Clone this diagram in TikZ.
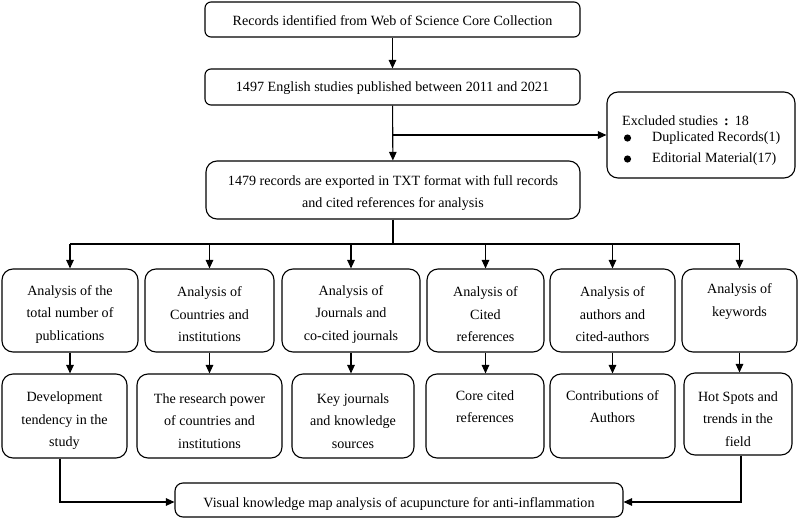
\documentclass[tikz,border=0pt]{standalone}
\usepackage{fontspec}
\setmainfont{Liberation Serif}
\usetikzlibrary{arrows.meta}
\begin{document}
\begin{tikzpicture}[x=1pt,y=-1pt,
 box/.style={draw, line width=1.1pt, rounded corners=11pt, inner sep=0pt},
 wbox/.style={box, rounded corners=6pt},
 lab/.style={align=center, inner sep=0pt, font=\fontsize{14.1}{22.5}\selectfont, yshift=-4pt},
 lab1/.style={lab, yshift=2.5pt},
 txt/.style={inner sep=0pt, anchor=west, font=\fontsize{14.1}{16}\selectfont},
 arr/.style={-{Triangle[length=8.5pt,width=7.5pt]}, line width=1.1pt},
 ln/.style={line width=1.1pt}]
\useasboundingbox (0,0) rectangle (800,519);
\node[wbox, minimum width=375pt, minimum height=35pt, label={[lab1]center:Records identified from Web of Science Core Collection}] (a) at (392.5,19.5) {};
\node[wbox, minimum width=375pt, minimum height=36pt, label={[lab1]center:1497 English studies published between 2011 and 2021}] (b) at (392.5,87) {};
\node[box, minimum width=374pt, minimum height=58pt, label={[lab, yshift=1pt]center:{1479 records are exported in TXT format with full records\\and cited references for analysis}}] (c) at (393,190) {};
\node[box, minimum width=188pt, minimum height=86pt] (excl) at (701,135) {};
\node[txt] (e1) at (622,121) {Excluded studies\hspace{6pt}\textbf{:}\hspace{6pt}18};
\node[txt] (e2) at (652,138) {Duplicated Records(1)};
\node[txt] (e3) at (652,159) {Editorial Material(17)};
\fill (627.5,138) circle (3.6pt);
\fill (627.5,159) circle (3.6pt);
% row 1
\tikzset{rb/.style={box, minimum height=83pt}, sb/.style={box, minimum height=84pt}}
\node[rb, minimum width=136pt, label={[lab]center:{Analysis of the\\total number of\\publications}}] (r1) at (70,310.5) {};
\node[rb, minimum width=129pt, label={[lab]center:{Analysis of\\Countries and\\institutions}}] (r2) at (209.5,310.5) {};
\node[rb, minimum width=138pt, label={[lab]center:{Analysis of\\Journals and\\co-cited journals}}] (r3) at (351,310.5) {};
\node[rb, minimum width=117pt, label={[lab]center:{Analysis of\\Cited\\references}}] (r4) at (485.5,310.5) {};
\node[rb, minimum width=125pt, label={[lab]center:{Analysis of\\authors and\\cited-authors}}] (r5) at (612.5,310.5) {};
\node[rb, minimum width=115pt, label={[lab]center:{Analysis of\\keywords\\\strut}}] (r6) at (739.5,310.5) {};
% row 2
\node[sb, minimum width=125pt, label={[lab, yshift=-1pt]center:{Development\\tendency in the\\study}}] (s1) at (64.5,416) {};
\node[sb, minimum width=145pt, label={[lab, yshift=-1pt]center:{The research power\\of countries and\\institutions}}] (s2) at (209.5,416) {};
\node[sb, minimum width=122pt, label={[lab, yshift=-1pt]center:{Key journals\\and knowledge\\sources}}] (s3) at (353,416) {};
\node[sb, minimum width=118pt, label={[lab, yshift=-1pt]center:{Core cited\\references\\\strut}}] (s4) at (485,416) {};
\node[sb, minimum width=125pt, label={[lab, yshift=-1pt]center:{Contributions of\\Authors\\\strut}}] (s5) at (612.5,416) {};
\node[box, minimum width=108pt, minimum height=82pt, label={[lab, yshift=-1pt]center:{Hot Spots and\\trends in the\\field}}] (s6) at (738,414) {};
% bottom
\node[box, rounded corners=8pt, minimum width=448pt, minimum height=34pt, label={[lab, yshift=0pt]center:Visual knowledge map analysis of acupuncture for anti-inflammation}] (v) at (399,500) {};
% connectors
\draw[arr] (a) -- (b);
\draw[arr] (b) -- (c);
\coordinate (br) at (393,135);
\draw[arr] (br) -- (excl.west);
\coordinate (bar) at (393,244);
\draw[ln] (c.south) -- (bar);
\draw[ln] (r1.north |- bar) -- (r6.north |- bar);
\foreach \i in {1,...,6}{
  \draw[arr] (r\i.north |- bar) -- (r\i.north);
  \draw[arr] (r\i.south) -- (r\i.south |- s\i.north);
}
\draw[arr] ([xshift=-4.5pt]s1.south) |- ([yshift=-2pt]v.west);
\draw[arr] ([xshift=3pt]s6.south) |- ([yshift=-2pt]v.east);
\end{tikzpicture}
\end{document}
